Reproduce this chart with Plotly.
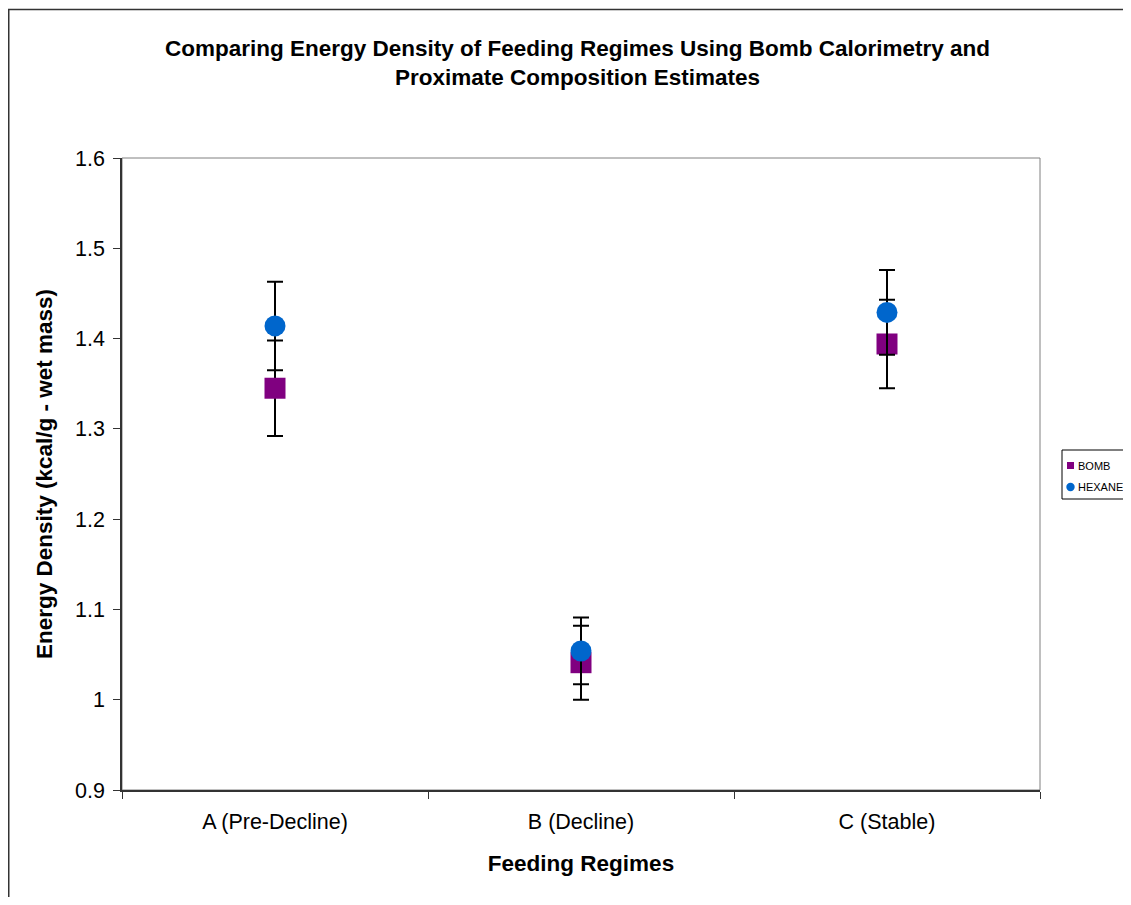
import plotly.graph_objects as go

categories = ["A (Pre-Decline)", "B (Decline)", "C (Stable)"]
bomb = [1.345, 1.041, 1.394]
bomb_err = [0.053, 0.041, 0.049]
hexane = [1.414, 1.054, 1.429]
hexane_err = [0.049, 0.037, 0.047]
y_ticks = [0.9, 1.0, 1.1, 1.2, 1.3, 1.4, 1.5, 1.6]
y_ticktext = ["0.9", "1", "1.1", "1.2", "1.3", "1.4", "1.5", "1.6"]
series_names = ["BOMB", "HEXANE"]
series_colors = ["#800080", "#0066CC"]

FONT = "Liberation Sans, Arial, sans-serif"

W, H = 1115, 889   # figure fits inside the window with the 8px body margin
OFF = 8
L, R, T, B = 122 - OFF, 1040 - OFF, 158 - OFF, 790 - OFF

fig = go.Figure()
fig.add_trace(go.Scatter(
    x=categories, y=bomb, mode="markers", name=series_names[0],
    marker=dict(symbol="square", size=21, color=series_colors[0]),
    error_y=dict(type="data", array=bomb_err, visible=True,
                 color="black", thickness=2, width=8),
))
fig.add_trace(go.Scatter(
    x=categories, y=hexane, mode="markers", name=series_names[1],
    marker=dict(symbol="circle", size=21, color=series_colors[1]),
    error_y=dict(type="data", array=hexane_err, visible=True,
                 color="black", thickness=2, width=8),
))

def px(xp):
    return (xp - L) / (R - L)

def py(yp):
    return (B - yp) / (B - T)

shapes = [
    # plot area frame
    dict(type="rect", xref="paper", yref="paper", x0=0, x1=1, y0=0, y1=1,
         line=dict(color="#808080", width=1), layer="below"),
    # outer chart border
    dict(type="rect", xref="paper", yref="paper",
         x0=px(0.75), x1=px(1145), y0=py(920), y1=py(1.5),
         line=dict(color="#333333", width=1.5)),
    # legend box
    dict(type="rect", xref="paper", yref="paper",
         x0=px(1054), x1=px(1160), y0=py(491), y1=py(442),
         line=dict(color="black", width=1), fillcolor="white"),
    # legend symbols
    dict(type="rect", xref="paper", yref="paper",
         x0=px(1059), x1=px(1066), y0=py(461), y1=py(454),
         line=dict(width=0), fillcolor=series_colors[0]),
    dict(type="circle", xref="paper", yref="paper",
         x0=px(1058.3), x1=px(1066.7), y0=py(483.2), y1=py(474.8),
         line=dict(width=0), fillcolor=series_colors[1]),
]

annotations = [
    dict(text=series_names[0], xref="paper", yref="paper",
         x=px(1067.5), y=py(457.5), xanchor="left", yanchor="middle",
         showarrow=False, font=dict(family=FONT, size=11, color="black")),
    dict(text=series_names[1], xref="paper", yref="paper",
         x=px(1067.5), y=py(479), xanchor="left", yanchor="middle",
         showarrow=False, font=dict(family=FONT, size=11, color="black")),
]

fig.update_layout(
    width=W, height=H,
    margin=dict(l=L, r=W - R, t=T, b=H - B, autoexpand=False),
    paper_bgcolor="white", plot_bgcolor="white",
    font=dict(family=FONT, color="black", size=21),
    title=dict(
        text="<b>Comparing Energy Density of Feeding Regimes Using Bomb Calorimetry and<br>Proximate Composition Estimates</b>",
        x=569.5 / W, xanchor="center", y=1 - 48 / H, yanchor="middle",
        font=dict(family=FONT, size=22.5, color="black"),
    ),
    showlegend=False,
    shapes=shapes,
    annotations=annotations,
)

fig.update_xaxes(
    type="category", categoryorder="array", categoryarray=categories,
    range=[-0.5, 2.5],
    showline=True, linecolor="#333333", linewidth=1.5,
    ticks="outside", tickson="boundaries", ticklen=7, tickcolor="#333333",
    ticklabelstandoff=11,
    showgrid=False, zeroline=False,
    tickfont=dict(family=FONT, size=21.5, color="black"),
    title=dict(text="<b>Feeding Regimes</b>", standoff=23,
               font=dict(family=FONT, size=22.5, color="black")),
)
fig.update_yaxes(
    range=[0.9, 1.6], tickmode="array", tickvals=y_ticks, ticktext=y_ticktext,
    showline=True, linecolor="#333333", linewidth=1.5,
    ticks="outside", ticklen=7, tickcolor="#333333",
    ticklabelstandoff=4,
    showgrid=False, zeroline=False,
    tickfont=dict(family=FONT, size=21.5, color="black"),
    title=dict(text="<b>Energy Density (kcal/g - wet mass)</b>", standoff=16,
               font=dict(family=FONT, size=22.5, color="black")),
)

fig.write_html("out.html")
